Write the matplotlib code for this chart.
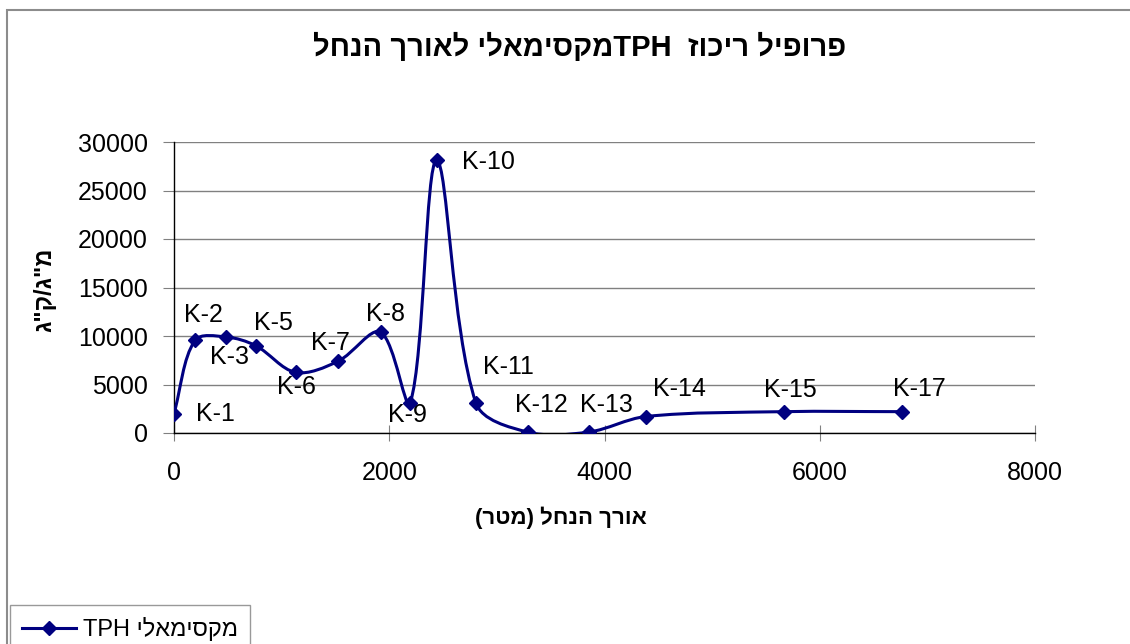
import re
import numpy as np
import matplotlib
matplotlib.use('Agg')
import matplotlib.pyplot as plt
from matplotlib.path import Path
from matplotlib.patches import PathPatch, Rectangle
from matplotlib.lines import Line2D

plt.rcParams['font.family'] = ['Liberation Sans', 'DejaVu Sans']

# data
names = ['K-1', 'K-2', 'K-3', 'K-5', 'K-6', 'K-7', 'K-8', 'K-9', 'K-10',
         'K-11', 'K-12', 'K-13', 'K-14', 'K-15', 'K-17']
dist = [0, 195, 485, 760, 1130, 1525, 1920, 2195, 2440,
        2805, 3285, 3855, 4385, 5670, 6760]
tph = [2000, 9550, 9900, 9000, 6250, 7400, 10400, 3100, 28100,
       3100, 100, 100, 1700, 2200, 2200]

title = 'פרופיל ריכוז  TPHמקסימאלי לאורך הנחל'
xlabel = 'אורך הנחל (מטר)'
ylabel = 'מ"ג/ק"ג'
series = 'מקסימאלי TPH'

# label offsets in pixels (dx, dy)
offs = [(41, 0), (8, 25), (3, -20), (18, 23), (1, -15), (-8, 18), (5, 18),
        (-3, -12), (52, -2), (33, 36), (14, 27), (18, 27), (34, 28),
        (6, 22), (18, 23)]

COL = '#000080'
XMAX, YMAX = 8000, 30000
AXW, AXH = 861, 291   # axes size in px, for the smoothing


def visual(s):
    # matplotlib has no bidi: reverse runs for right-to-left display
    parts = re.findall(r'[A-Za-z0-9]+|[^A-Za-z0-9]', s)
    return ''.join(reversed(parts)).translate(str.maketrans('()', ')('))


def smooth_path(x, y):
    # excel style smoothed line: cubic bezier, tangents weighted by
    # the screen distance to the neighbours
    p = np.column_stack([x, y]).astype(float)
    sc = np.array([AXW / XMAX, AXH / YMAX])
    n = len(p)
    seg = np.hypot(*((np.diff(p, axis=0) * sc).T))
    verts = [p[0]]
    codes = [Path.MOVETO]
    for i in range(n - 1):
        if i > 0:
            w = seg[i] / (seg[i - 1] + seg[i])
            c1 = p[i] + (p[i + 1] - p[i - 1]) * w / 3.0
        else:
            c1 = p[i] + (p[i + 1] - p[i]) / 3.0
        if i + 2 < n:
            w = seg[i] / (seg[i] + seg[i + 1])
            c2 = p[i + 1] - (p[i + 2] - p[i]) * w / 3.0
        else:
            c2 = p[i + 1] - (p[i + 1] - p[i]) / 3.0
        verts += [c1, c2, p[i + 1]]
        codes += [Path.CURVE4] * 3
    return Path(verts, codes)


fig = plt.figure(figsize=(11.3, 6.44), dpi=100)
ax = fig.add_axes([174/1130, 1-433/644, (1035-174)/1130, (433-142)/644])

ax.add_patch(PathPatch(smooth_path(dist, tph), fill=False, ec=COL, lw=2.2,
                       transform=ax.transData, zorder=3))
ax.plot(dist, tph, ls='none', marker='D', ms=7.4, color=COL, zorder=4)

for name, x, y, o in zip(names, dist, tph, offs):
    ax.annotate(name, (x, y), xytext=o, textcoords='offset pixels',
                ha='center', va='center', fontsize=18)

ax.set_xlim(0, XMAX)
ax.set_ylim(0, YMAX)
ax.set_xticks(np.arange(0, XMAX + 1, 2000))
ax.set_yticks(np.arange(0, YMAX + 1, 5000))
ax.yaxis.grid(True, color='#808080', lw=1)
ax.set_axisbelow(True)
for s in ['top', 'right']:
    ax.spines[s].set_visible(False)
for s in ['left', 'bottom']:
    ax.spines[s].set_color('black')
    ax.spines[s].set_linewidth(1)
ax.tick_params(axis='y', direction='out', length=8, color='#808080',
               labelsize=18, pad=11)
ax.tick_params(axis='x', direction='inout', length=12, color='#808080',
               labelsize=18, pad=14)

fig.text(580/1130, 1-47/644, visual(title), ha='center', va='center',
         fontsize=21, fontweight='bold')
fig.text(561/1130, 1-518/644, visual(xlabel), ha='center', va='center',
         fontsize=16, fontweight='bold')
fig.text(45/1130, 1-290/644, visual(ylabel), ha='center', va='center',
         fontsize=17, fontweight='bold', rotation=90)

# outer chart frame
fig.add_artist(Rectangle((7/1130, -0.1), 1.2, 1.1 - 10/644,
                         transform=fig.transFigure, fill=False,
                         ec='#8c8c8c', lw=1.5))

h = Line2D([], [], color=COL, lw=2.2, marker='D', ms=7.4)
fig.legend([h], [visual(series)], loc='upper left',
           bbox_to_anchor=(10/1130, 1-605/644), fontsize=17, frameon=True,
           fancybox=False, edgecolor='#808080', borderpad=0.5,
           handlelength=2.3, handletextpad=0.3, borderaxespad=0)

fig.savefig('out.png', dpi=100)
